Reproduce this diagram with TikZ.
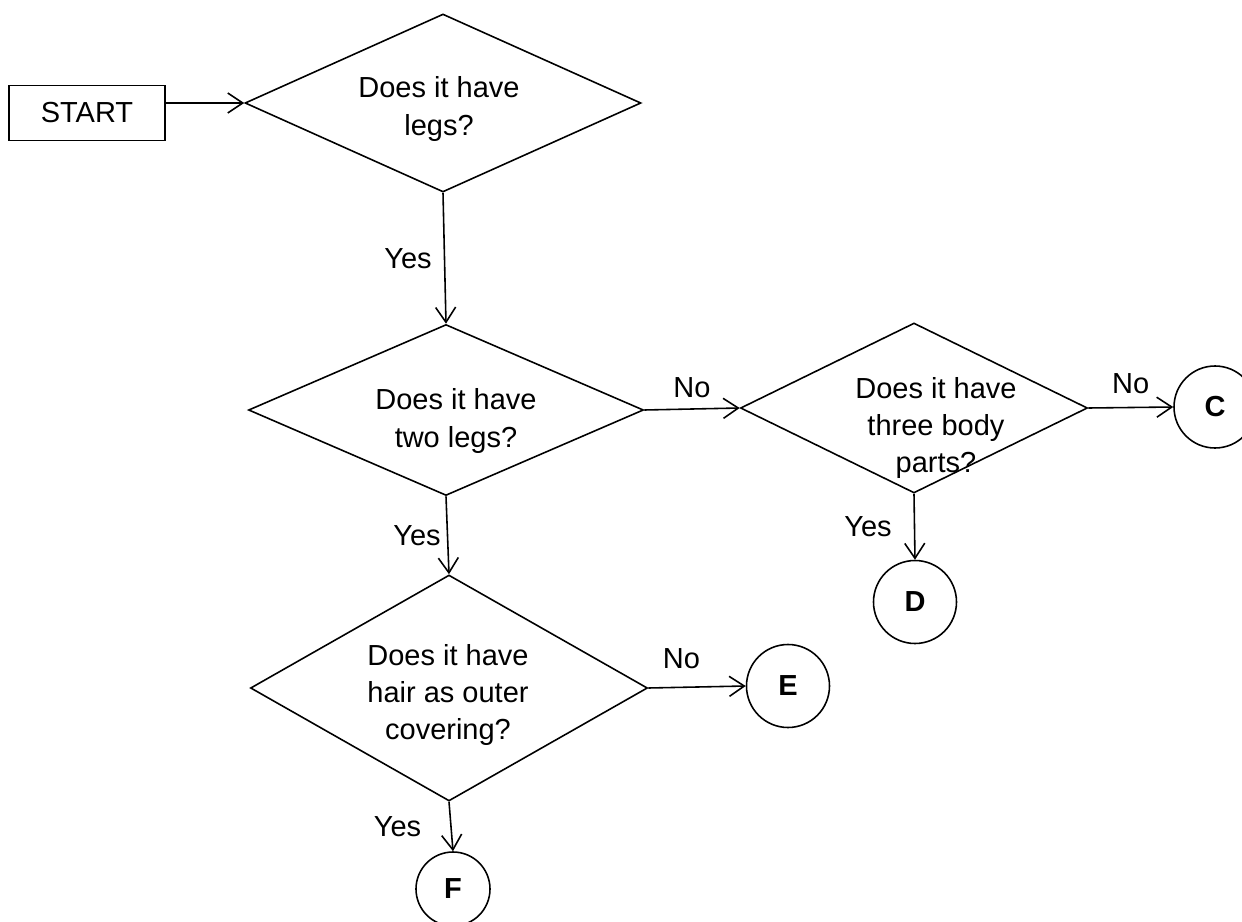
\documentclass[tikz,border=0pt]{standalone}
\usepackage{fontspec}
\setmainfont{Liberation Sans}
\usetikzlibrary{shapes.geometric, arrows.meta, positioning}
\newcommand{\qfont}{\fontsize{16.5}{21.3}\selectfont}
\tikzset{
  startbox/.style = {rectangle, draw, minimum width=3.12cm, minimum height=1.1cm, inner sep=0pt},
  decision/.style = {diamond, draw, inner sep=0pt},
  qtext/.style    = {align=center, inner sep=0pt},
  endnode/.style  = {circle, draw, minimum size=1.66cm, inner sep=0pt, font=\qfont\bfseries},
  arrow/.style    = {-{Straight Barb[length=0.3cm, width=0.4cm]}},
  lbl/.style      = {inner sep=0pt},
}

\begin{document}
\begin{tikzpicture}[line width=0.9pt, font=\qfont]
    \useasboundingbox (0,0) rectangle (24.84,-18.44);

    %% Start and first question
    \node[startbox] (start) at (1.74,-2.26) {START};
    \node[decision, minimum width=7.92cm, minimum height=3.56cm] (d1) at (8.86,-2.06) {};
    \node[qtext] (q1) at (8.78,-2.18) {Does it have\\legs?};

    %% Second row
    \node[decision, minimum width=7.9cm, minimum height=3.42cm] (d2) at (8.92,-8.2) {};
    \node[qtext] (q2) at (9.12,-8.42) {Does it have\\two legs?};
    \node[decision, minimum width=6.94cm, minimum height=3.4cm] (d3) at (18.28,-8.16) {};
    \node[qtext] (q3) at (18.72,-8.56) {Does it have\\three body\\parts?};
    \node[endnode, minimum size=1.64cm] (c) at (24.3,-8.14) {C};
    \node[endnode] (dd) at (18.3,-12.04) {D};

    %% Third row
    \node[decision, minimum width=7.94cm, minimum height=4.52cm] (d4) at (8.98,-13.76) {};
    \node[qtext] (q4) at (8.96,-13.9) {Does it have\\hair as outer\\covering?};
    \node[endnode] (e) at (15.76,-13.72) {E};
    \node[endnode, minimum size=1.48cm] (f) at (9.06,-17.78) {F};

    %% Connectors
    \draw[arrow] (start.east |- d1.west) -- (d1.west);
    \draw[arrow] (d1.south) -- node[lbl, left=0.24cm]{Yes} (d2.north);
    \draw[arrow] (d2.east)  -- node[lbl, above=0.2cm]{No} (d3.west);
    \draw[arrow] (d3.east)  -- node[lbl, above=0.26cm]{No} (c.west);
    \draw[arrow] (d3.south) -- node[lbl, left=0.44cm]{Yes} (dd.north);
    \draw[arrow] (d2.south) -- node[lbl, left=0.12cm]{Yes} (d4.north);
    \draw[arrow] (d4.east)  -- node[lbl, above=0.36cm, pos=0.34]{No} (e.west);
    \draw[arrow] (d4.south) -- node[lbl, left=0.58cm]{Yes} (f.north);

  \end{tikzpicture}
\end{document}
